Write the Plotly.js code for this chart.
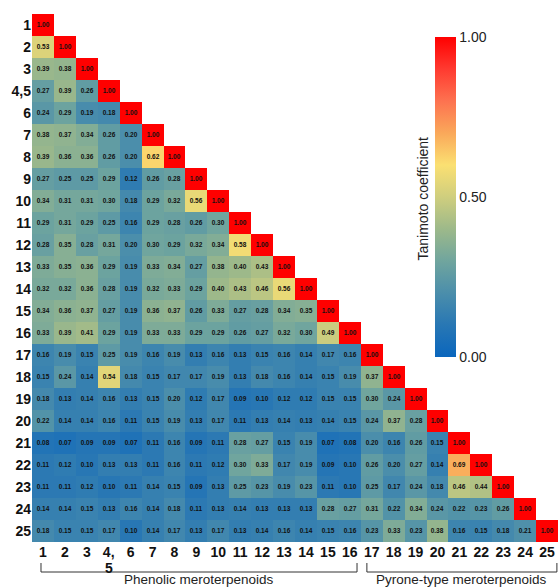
<!DOCTYPE html>
<html>
<head>
<meta charset="utf-8">
<script src="https://cdn.plot.ly/plotly-3.0.1.min.js"></script>
<style>html,body{margin:0;padding:0;background:#fff;}#chart{width:558px;height:587px;}</style>
</head>
<body>
<div id="chart"></div>
<script>
// Compound labels (4 and 5 share one row/column)
const labels = ["1","2","3","4,5","6","7","8","9","10","11","12","13","14","15","16","17","18","19","20","21","22","23","24","25"];
const xTickLabels = ["1","2","3","4,","6","7","8","9","10","11","12","13","14","15","16","17","18","19","20","21","22","23","24","25"];

// Lower-triangle Tanimoto coefficients, row by row
const row1  = [1.00];
const row2  = [0.53,1.00];
const row3  = [0.39,0.38,1.00];
const row45 = [0.27,0.39,0.26,1.00];
const row6  = [0.24,0.29,0.19,0.18,1.00];
const row7  = [0.38,0.37,0.34,0.26,0.20,1.00];
const row8  = [0.39,0.36,0.36,0.26,0.20,0.62,1.00];
const row9  = [0.27,0.25,0.25,0.29,0.12,0.26,0.28,1.00];
const row10 = [0.34,0.31,0.31,0.30,0.18,0.29,0.32,0.56,1.00];
const row11 = [0.29,0.31,0.29,0.25,0.16,0.29,0.28,0.26,0.30,1.00];
const row12 = [0.28,0.35,0.28,0.31,0.20,0.30,0.29,0.32,0.34,0.58,1.00];
const row13 = [0.33,0.35,0.36,0.29,0.19,0.33,0.34,0.27,0.38,0.40,0.43,1.00];
const row14 = [0.32,0.32,0.36,0.28,0.19,0.32,0.33,0.29,0.40,0.43,0.46,0.56,1.00];
const row15 = [0.34,0.36,0.37,0.27,0.19,0.36,0.37,0.26,0.33,0.27,0.28,0.34,0.35,1.00];
const row16 = [0.33,0.39,0.41,0.29,0.19,0.33,0.33,0.29,0.29,0.26,0.27,0.32,0.30,0.49,1.00];
const row17 = [0.16,0.19,0.15,0.25,0.19,0.16,0.19,0.13,0.16,0.13,0.15,0.16,0.14,0.17,0.16,1.00];
const row18 = [0.15,0.24,0.14,0.54,0.18,0.15,0.17,0.17,0.19,0.13,0.18,0.16,0.14,0.15,0.19,0.37,1.00];
const row19 = [0.18,0.13,0.14,0.16,0.13,0.15,0.20,0.12,0.17,0.09,0.10,0.12,0.12,0.15,0.15,0.30,0.24,1.00];
const row20 = [0.22,0.14,0.14,0.16,0.11,0.15,0.19,0.13,0.17,0.11,0.13,0.14,0.13,0.14,0.15,0.24,0.37,0.28,1.00];
const row21 = [0.08,0.07,0.09,0.09,0.07,0.11,0.16,0.09,0.11,0.28,0.27,0.15,0.19,0.07,0.08,0.20,0.16,0.26,0.15,1.00];
const row22 = [0.11,0.12,0.10,0.13,0.13,0.11,0.16,0.11,0.12,0.30,0.33,0.17,0.19,0.09,0.10,0.26,0.20,0.27,0.14,0.69,1.00];
const row23 = [0.11,0.11,0.12,0.10,0.11,0.14,0.15,0.09,0.13,0.25,0.23,0.19,0.23,0.11,0.10,0.25,0.17,0.24,0.18,0.46,0.44,1.00];
const row24 = [0.14,0.14,0.15,0.13,0.16,0.14,0.18,0.11,0.13,0.14,0.13,0.13,0.13,0.28,0.27,0.31,0.22,0.34,0.24,0.22,0.23,0.26,1.00];
const row25 = [0.18,0.15,0.15,0.17,0.10,0.14,0.17,0.13,0.17,0.13,0.14,0.16,0.14,0.15,0.16,0.23,0.33,0.23,0.38,0.16,0.15,0.18,0.21,1.00];

// Groups (first and last label of each bracket)
const groupNames = ["Phenolic meroterpenoids","Pyrone-type meroterpenoids"];
const groupFirst = ["1","17"];
const groupLast  = ["16","25"];

const rows = [row1,row2,row3,row45,row6,row7,row8,row9,row10,row11,row12,row13,row14,row15,row16,row17,row18,row19,row20,row21,row22,row23,row24,row25];
const n = labels.length;
const idx = labels.map((_, i) => i);
const z = rows.map(r => idx.map(j => (j < r.length ? r[j] : null)));

const colorscale = [
  [0.00,'#0a66bd'],[0.10,'#2877b4'],[0.20,'#4b8eab'],[0.30,'#70a59e'],
  [0.40,'#9db98a'],[0.50,'#cfce7e'],[0.60,'#fbe072'],[0.70,'#faa85a'],
  [0.80,'#fd7250'],[0.90,'#ff3a30'],[1.00,'#ff0000']
];

const W = 558, H = 587, ML = 32, MR = 0, MT = 14, MB = 45;
const PW = W - ML - MR, PH = H - MT - MB;
const px2paperX = p => (p - ML) / PW;
const px2paperY = p => (H - MB - p) / PH;

const font = "Liberation Sans, Arial, Helvetica, sans-serif";

const trace = {
  type: 'heatmap',
  z: z, x: idx, y: idx,
  zmin: 0, zmax: 1,
  colorscale: colorscale,
  texttemplate: '%{z:.2f}',
  textfont: {family: font, size: 6.5, color: '#111', weight: 'bold'},
  hoverongaps: false,
  colorbar: {
    x: px2paperX(435), xanchor: 'left', xpad: 0,
    y: px2paperY(197), yanchor: 'middle', ypad: 0,
    len: 320, lenmode: 'pixels', thickness: 21,
    outlinewidth: 0, ticks: '',
    tickvals: [0, 0.5, 1], ticktext: ['0.00','0.50','1.00'],
    tickfont: {family: font, size: 14, color: '#222'}
  }
};

// bracket shapes + labels from group arrays
const shapes = [], annotations = [];
const lineY = px2paperY(572), tickTop = px2paperY(563);
const padL = [-0.09, -0.22], padR = [0.33, 0.45];
groupNames.forEach((g, k) => {
  const a = labels.indexOf(groupFirst[k]) + padL[k];
  const b = labels.indexOf(groupLast[k]) + padR[k];
  const ln = {color: '#333', width: 1};
  shapes.push({type:'line', xref:'x', yref:'paper', x0:a, x1:a, y0:tickTop, y1:lineY, line:ln});
  shapes.push({type:'line', xref:'x', yref:'paper', x0:a, x1:b, y0:lineY, y1:lineY, line:ln});
  shapes.push({type:'line', xref:'x', yref:'paper', x0:b, x1:b, y0:tickTop, y1:lineY, line:ln});
  annotations.push({
    text: g, xref:'x', yref:'paper', x:(a+b)/2, y:px2paperY(579.5),
    xanchor:'center', yanchor:'middle', showarrow:false, borderpad:0,
    font:{family:font, size:13.5, color:'#222'}
  });
});
// second line of the "4,5" column label
annotations.push({
  text: '5', xref:'x', yref:'paper', x: labels.indexOf('4,5'), y: px2paperY(567.5),
  xanchor:'center', yanchor:'middle', showarrow:false, borderpad:0,
  font:{family:font, size:14, color:'#111', weight:'bold'}
});
// colorbar title
annotations.push({
  text: 'Tanimoto coefficient', xref:'paper', yref:'paper',
  x: px2paperX(422.5), y: px2paperY(199), textangle: -90,
  xanchor:'center', yanchor:'middle', showarrow:false,
  font:{family:font, size:14, color:'#222'}
});

const axisFont = {family: font, size: 14, color: '#111', weight: 'bold'};
const layout = {
  width: W, height: H,
  margin: {l: ML, r: MR, t: MT, b: MB, pad: 0},
  paper_bgcolor: '#fff', plot_bgcolor: '#fff',
  xaxis: {tickmode:'array', tickvals: idx, ticktext: xTickLabels, range:[-0.5, n-0.5],
          showgrid:false, zeroline:false, showline:false, ticks:'', tickfont: axisFont, tickangle: 0},
  yaxis: {tickmode:'array', tickvals: idx, ticktext: labels, range:[n-0.5, -0.5],
          showgrid:false, zeroline:false, showline:false, ticks:'', tickfont: axisFont},
  shapes: shapes,
  annotations: annotations,
  showlegend: false
};

Plotly.newPlot('chart', [trace], layout, {displayModeBar: false, staticPlot: true});
</script>
</body>
</html>
